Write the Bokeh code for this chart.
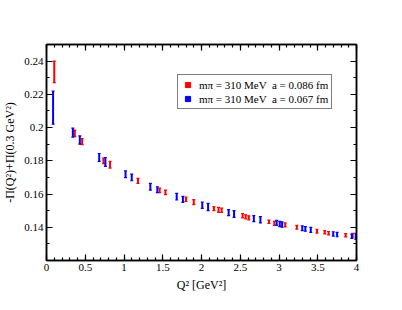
from bokeh.plotting import figure
from bokeh.models import (Range1d, LinearAxis, FixedTicker, Whisker, ColumnDataSource,
                          Legend, LegendItem, TeeHead)
from bokeh.embed import file_html
from bokeh.resources import INLINE

# ---- data ----
red_q2 = [0.10, 0.365, 0.46, 0.735, 0.82, 1.18, 1.46, 1.535, 1.80, 1.90, 2.16, 2.22, 2.26,
          2.53, 2.57, 2.61, 2.87, 2.94, 3.08, 3.23, 3.49, 3.59, 3.64, 3.86, 3.95]
red_val = [0.2335, 0.1965, 0.1915, 0.1800, 0.1776, 0.1679, 0.1622, 0.1610, 0.1568, 0.1551,
           0.1512, 0.1505, 0.1502, 0.1470, 0.1463, 0.1457, 0.1433, 0.1424, 0.1414, 0.1400,
           0.1376, 0.1370, 0.1364, 0.1352, 0.1352]
red_err = [0.0065, 0.0020, 0.0018, 0.0017, 0.0020, 0.0015, 0.0014, 0.0014, 0.0013, 0.0015,
           0.0012, 0.0015, 0.0013, 0.0013, 0.0012, 0.0012, 0.0010, 0.0012, 0.0012, 0.0011,
           0.0011, 0.0010, 0.0010, 0.0010, 0.0012]

blue_q2 = [0.085, 0.34, 0.43, 0.68, 0.76, 1.02, 1.10, 1.34, 1.43, 1.68, 1.76, 2.01, 2.085,
           2.35, 2.42, 2.675, 2.76, 2.97, 3.01, 3.04, 3.30, 3.34, 3.41, 3.70, 3.75, 3.94, 3.99]
blue_val = [0.2120, 0.1970, 0.1925, 0.1820, 0.1793, 0.1719, 0.1700, 0.1644, 0.1626, 0.1584,
            0.1568, 0.1533, 0.1522, 0.1488, 0.1480, 0.1452, 0.1445, 0.1426, 0.1420, 0.1416,
            0.1394, 0.1390, 0.1384, 0.1360, 0.1356, 0.1346, 0.1346]
blue_err = [0.0100, 0.0027, 0.0025, 0.0024, 0.0027, 0.0020, 0.0020, 0.0020, 0.0018, 0.0020,
            0.0018, 0.0019, 0.0022, 0.0018, 0.0020, 0.0018, 0.0019, 0.0015, 0.0016, 0.0016,
            0.0014, 0.0014, 0.0015, 0.0013, 0.0013, 0.0013, 0.0018]

x_ticks = [0, 0.5, 1, 1.5, 2, 2.5, 3, 3.5, 4]
x_tick_labels = ["0", "0.5", "1", "1.5", "2", "2.5", "3", "3.5", "4"]
y_ticks = [0.14, 0.16, 0.18, 0.2, 0.22, 0.24]
y_tick_labels = ["0.14", "0.16", "0.18", "0.2", "0.22", "0.24"]
x_minor = [round(i * 0.1, 2) for i in range(41)]
y_minor = [round(0.12 + i * 0.01, 2) for i in range(14)]

label_red = "mπ = 310 MeV  a = 0.086 fm"
label_blue = "mπ = 310 MeV  a = 0.067 fm"

FONT = "Liberation Serif"

p = figure(frame_width=310, frame_height=216, x_range=Range1d(0, 4), y_range=Range1d(0.12, 0.25),
           output_backend="svg", toolbar_location=None,
           min_border_left=42, min_border_right=34, min_border_top=44, min_border_bottom=34,
           x_axis_label="Q² [GeV²]", y_axis_label="-Π(Q²)+Π(0.3 GeV²)")
p.xgrid.visible = False
p.ygrid.visible = False
p.outline_line_color = "black"
p.outline_line_width = 1.5
p.background_fill_color = "white"
p.border_fill_color = "white"


def style_axis(ax, ticks, minor, labels, show_labels=True):
    ax.ticker = FixedTicker(ticks=ticks, minor_ticks=minor)
    ax.major_label_overrides = {t: (l if show_labels else "") for t, l in zip(ticks, labels)}
    ax.major_tick_in = 6
    ax.major_tick_out = 0
    ax.minor_tick_in = 3
    ax.minor_tick_out = 0
    ax.axis_line_color = "black"
    ax.axis_line_width = 1.5
    ax.major_tick_line_width = 1.2
    ax.minor_tick_line_width = 1.2
    ax.major_label_text_font = FONT
    ax.major_label_text_font_size = "11px"
    ax.major_label_text_color = "black"
    ax.major_label_standoff = 3
    ax.axis_label_text_font = FONT
    ax.axis_label_text_font_size = "12px"
    ax.axis_label_text_font_style = "normal"
    ax.axis_label_text_color = "black"
    ax.axis_label_standoff = 4
    if not show_labels:
        ax.major_label_standoff = 0


style_axis(p.xaxis[0], x_ticks, x_minor, x_tick_labels)
style_axis(p.yaxis[0], y_ticks, y_minor, y_tick_labels)
top = LinearAxis()
style_axis(top, x_ticks, x_minor, x_tick_labels, show_labels=False)
right = LinearAxis()
style_axis(right, y_ticks, y_minor, y_tick_labels, show_labels=False)
p.add_layout(top, "above")
p.add_layout(right, "right")

legend_renderers = []
for xs, ys, es, col in [(red_q2, red_val, red_err, "#ff0000"),
                        (blue_q2, blue_val, blue_err, "#0000ff")]:
    src = ColumnDataSource(dict(x=xs, y=ys, lo=[y - e for y, e in zip(ys, es)],
                                hi=[y + e for y, e in zip(ys, es)]))
    w = Whisker(base="x", lower="lo", upper="hi", source=src, dimension="height",
                line_color=col, line_width=2,
                upper_head=TeeHead(size=3, line_color=col, line_width=1.2),
                lower_head=TeeHead(size=3, line_color=col, line_width=1.2))
    p.add_layout(w)
    # marker renderer used only for the legend swatch (drawn with zero size on the plot)
    r = p.scatter(x="x", y="y", source=src, marker="square", size=0,
                  fill_color=col, line_color=col)
    legend_renderers.append(r)

legend = Legend(items=[LegendItem(label=label_red, renderers=[legend_renderers[0]]),
                       LegendItem(label=label_blue, renderers=[legend_renderers[1]])],
                location=(131, 151), orientation="vertical",
                glyph_width=13, glyph_height=13, label_height=13, label_standoff=5,
                padding=3, spacing=1, margin=0,
                border_line_color="black", border_line_width=1,
                background_fill_color="white", background_fill_alpha=1,
                label_text_font=FONT, label_text_font_size="11px", label_text_color="black")
p.add_layout(legend, "center")

open("out.html", "w").write(file_html(p, INLINE))
